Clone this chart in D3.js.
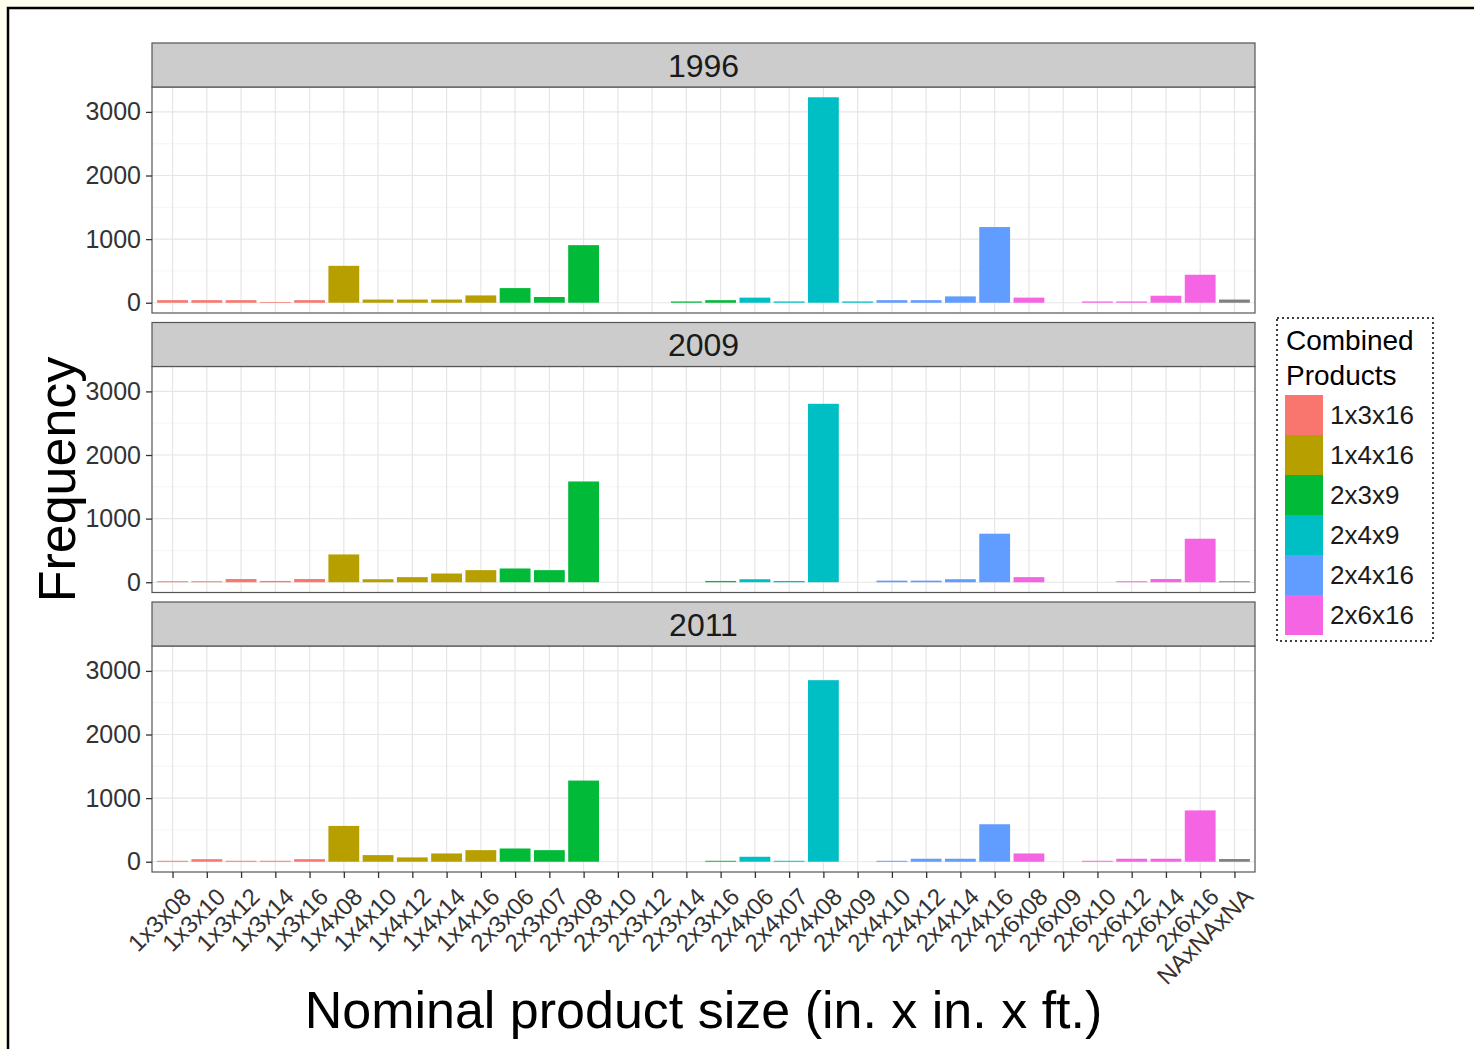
<!DOCTYPE html>
<html>
<head>
<meta charset="utf-8">
<script src="https://cdn.jsdelivr.net/npm/d3@7"></script>
<style>
  html, body { margin: 0; padding: 0; background: #fffff0; }
  svg { display: block; font-family: "Liberation Sans", Arial, sans-serif; }
</style>
</head>
<body>
<svg id="chart" width="1474" height="1049"></svg>
<script>
// ---- data ----
const categories = [
  "1x3x08", "1x3x10", "1x3x12", "1x3x14", "1x3x16",
  "1x4x08", "1x4x10", "1x4x12", "1x4x14", "1x4x16",
  "2x3x06", "2x3x07", "2x3x08", "2x3x10", "2x3x12", "2x3x14", "2x3x16",
  "2x4x06", "2x4x07", "2x4x08", "2x4x09", "2x4x10", "2x4x12", "2x4x14", "2x4x16",
  "2x6x08", "2x6x09", "2x6x10", "2x6x12", "2x6x14", "2x6x16",
  "NAxNAxNA"
];

// combined product each size falls in (fill group)
const productGroup = [
  "1x3x16", "1x3x16", "1x3x16", "1x3x16", "1x3x16",
  "1x4x16", "1x4x16", "1x4x16", "1x4x16", "1x4x16",
  "2x3x9", "2x3x9", "2x3x9", "2x3x9", "2x3x9", "2x3x9", "2x3x9",
  "2x4x9", "2x4x9", "2x4x9", "2x4x9", "2x4x16", "2x4x16", "2x4x16", "2x4x16",
  "2x6x16", "2x6x16", "2x6x16", "2x6x16", "2x6x16", "2x6x16",
  "NA"
];

const years = ["1996", "2009", "2011"];

const freq1996 = [40, 40, 40, 12, 40, 580, 50, 50, 50, 115, 230, 90, 905, 0, 0,
  20, 40, 80, 20, 3230, 20, 40, 40, 100, 1190, 80, 0, 20, 20, 110, 440, 50];
const freq2009 = [15, 15, 50, 20, 50, 437, 47, 80, 137, 190, 216, 190, 1584, 0, 0,
  0, 20, 47, 20, 2805, 0, 25, 25, 47, 763, 80, 0, 0, 15, 50, 684, 15];
const freq2011 = [15, 40, 15, 15, 40, 563, 104, 68, 130, 182, 208, 182, 1276, 0, 0,
  0, 15, 78, 15, 2854, 0, 15, 47, 47, 589, 130, 0, 15, 47, 47, 807, 42];
const freqByYear = [freq1996, freq2009, freq2011];

const legendLabels = ["1x3x16", "1x4x16", "2x3x9", "2x4x9", "2x4x16", "2x6x16"];
const legendColors = ["#F8766D", "#B79F00", "#00BA38", "#00BFC4", "#619CFF", "#F564E3"];
const naColor = "#7F7F7F";

const yTicks = [0, 1000, 2000, 3000];
const yMinorTicks = [500, 1500, 2500];

// ---- layout ----
const svg = d3.select("#chart");
const W = 1474, H = 1049;

// page: cream outside, white inside a black frame
svg.append("rect").attr("width", W).attr("height", H).attr("fill", "#fffff0");
svg.append("rect")
  .attr("x", 8).attr("y", 8).attr("width", W + 10).attr("height", H + 10)
  .attr("fill", "#ffffff").attr("stroke", "#000").attr("stroke-width", 2.5);

const panelLeft = 152, panelRight = 1255;
const stripH = 44, panelH = 226, facetStep = 279.5, firstTop = 43;

const fill = d3.scaleOrdinal()
  .domain(legendLabels)
  .range(legendColors)
  .unknown(naColor);

const x = d3.scalePoint()
  .domain(categories)
  .range([panelLeft, panelRight])
  .padding(0.6);
const barW = x.step() * 0.9;

const yMax = d3.max(freqByYear.flat());
const pad = yMax * 0.05;

years.forEach((year, k) => {
  const stripTop = firstTop + k * facetStep;
  const top = stripTop + stripH;
  const bottom = top + panelH;
  const values = freqByYear[k];

  const y = d3.scaleLinear().domain([-pad, yMax + pad]).range([bottom, top]);

  const g = svg.append("g");

  // panel background
  g.append("rect")
    .attr("x", panelLeft).attr("y", top)
    .attr("width", panelRight - panelLeft).attr("height", panelH)
    .attr("fill", "#fff");

  // grid
  g.selectAll(".minor").data(yMinorTicks).enter().append("line")
    .attr("x1", panelLeft).attr("x2", panelRight)
    .attr("y1", d => y(d)).attr("y2", d => y(d))
    .attr("stroke", "#f2f2f2").attr("stroke-width", 0.8);
  g.selectAll(".major").data(yTicks).enter().append("line")
    .attr("x1", panelLeft).attr("x2", panelRight)
    .attr("y1", d => y(d)).attr("y2", d => y(d))
    .attr("stroke", "#e6e6e6").attr("stroke-width", 1.2);
  g.selectAll(".vgrid").data(categories).enter().append("line")
    .attr("x1", d => x(d)).attr("x2", d => x(d))
    .attr("y1", top).attr("y2", bottom)
    .attr("stroke", "#e6e6e6").attr("stroke-width", 1.2);

  // bars
  g.selectAll(".bar").data(categories).enter().append("rect")
    .attr("x", d => x(d) - barW / 2)
    .attr("width", barW)
    .attr("y", (d, i) => y(values[i]))
    .attr("height", (d, i) => y(0) - y(values[i]))
    .attr("fill", (d, i) => fill(productGroup[i]));

  // panel border
  g.append("rect")
    .attr("x", panelLeft).attr("y", top)
    .attr("width", panelRight - panelLeft).attr("height", panelH)
    .attr("fill", "none").attr("stroke", "#555").attr("stroke-width", 1.2);

  // strip
  g.append("rect")
    .attr("x", panelLeft).attr("y", stripTop)
    .attr("width", panelRight - panelLeft).attr("height", stripH)
    .attr("fill", "#cccccc").attr("stroke", "#555").attr("stroke-width", 1.2);
  g.append("text")
    .attr("x", (panelLeft + panelRight) / 2).attr("y", stripTop + stripH / 2)
    .attr("dy", "0.36em")
    .attr("text-anchor", "middle")
    .attr("font-size", 32).attr("fill", "#1a1a1a")
    .text(year);

  // y axis
  const yAxis = g.append("g")
    .attr("transform", `translate(${panelLeft},0)`)
    .call(d3.axisLeft(y).tickValues(yTicks).tickSize(6).tickPadding(5).tickFormat(d3.format("d")));
  yAxis.select(".domain").remove();
  yAxis.selectAll(".tick line").attr("stroke", "#333").attr("stroke-width", 1.3);
  yAxis.selectAll(".tick text")
    .attr("font-size", 25).attr("fill", "#333")
    .attr("font-family", "Liberation Sans, Arial, sans-serif");

  // x axis only on the last facet
  if (k === years.length - 1) {
    const xAxis = g.append("g")
      .attr("transform", `translate(0,${bottom})`)
      .call(d3.axisBottom(x).tickSize(6).tickFormat(""));
    xAxis.select(".domain").remove();
    xAxis.selectAll(".tick line").attr("stroke", "#333").attr("stroke-width", 1.3);

    g.selectAll(".xlab").data(categories).enter().append("text")
      .attr("transform", d => `translate(${x(d) + 8},${bottom + 14}) rotate(-45)`)
      .attr("dy", "0.72em")
      .attr("text-anchor", "end")
      .attr("font-size", 24).attr("fill", "#333")
      .text(d => d);
  }
});

// axis titles
svg.append("text")
  .attr("transform", `translate(75,${(firstTop + 2 * facetStep + stripH + panelH + firstTop + stripH) / 2}) rotate(-90)`)
  .attr("text-anchor", "middle")
  .attr("font-size", 52).attr("fill", "#000")
  .text("Frequency");

svg.append("text")
  .attr("x", (panelLeft + panelRight) / 2).attr("y", 1028)
  .attr("text-anchor", "middle")
  .attr("font-size", 52).attr("fill", "#000")
  .text("Nominal product size (in. x in. x ft.)");

// legend
const legend = svg.append("g");
legend.append("rect")
  .attr("x", 1277).attr("y", 318).attr("width", 156).attr("height", 323)
  .attr("fill", "#fff").attr("stroke", "#000").attr("stroke-width", 1.5)
  .attr("stroke-dasharray", "2,3");
legend.selectAll(".ltitle").data(["Combined", "Products"]).enter().append("text")
  .attr("x", 1286).attr("y", (d, i) => 350 + i * 35)
  .attr("font-size", 28).attr("fill", "#000")
  .text(d => d);

const keyH = 40, keyTop = 395;
legend.selectAll(".key").data(legendLabels).enter().append("rect")
  .attr("x", 1285).attr("y", (d, i) => keyTop + i * keyH)
  .attr("width", 38).attr("height", keyH)
  .attr("fill", d => fill(d));
legend.selectAll(".klab").data(legendLabels).enter().append("text")
  .attr("x", 1330).attr("y", (d, i) => keyTop + i * keyH + keyH / 2)
  .attr("dy", "0.36em")
  .attr("font-size", 26).attr("fill", "#1a1a1a")
  .text(d => d);
</script>
</body>
</html>
